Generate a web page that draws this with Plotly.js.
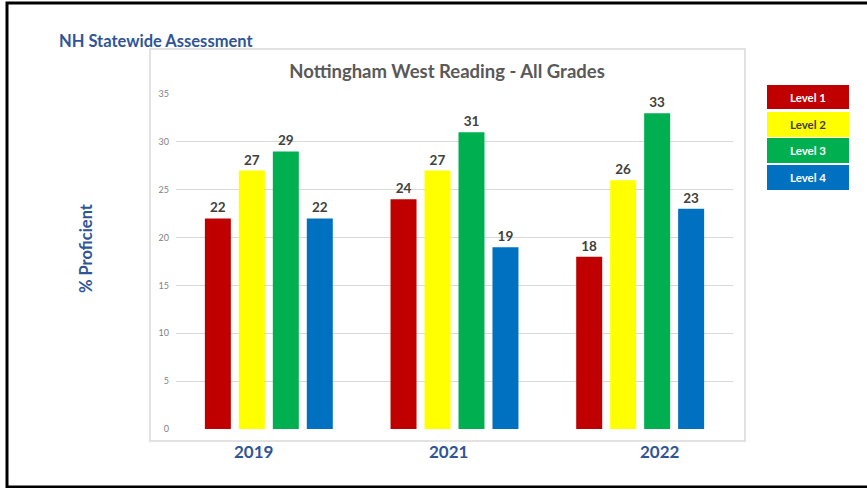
<!DOCTYPE html>
<html>
<head>
<meta charset="utf-8">
<script src="https://cdn.plot.ly/plotly-3.0.1.min.js"></script>
<style>html,body{margin:0;padding:0;background:#fff;}#chart{width:867px;height:488px;}</style>
</head>
<body>
<div id="chart"></div>
<script>
const years = ["2019", "2021", "2022"];
const seriesNames = ["Level 1", "Level 2", "Level 3", "Level 4"];
const level1 = [22, 24, 18];
const level2 = [27, 27, 26];
const level3 = [29, 31, 33];
const level4 = [22, 19, 23];
const seriesValues = [level1, level2, level3, level4];
const seriesColors = ["#C00000", "#FFFF00", "#00B050", "#0070C0"];
const legendTextColors = ["#FFFFFF", "#404040", "#FFFFFF", "#FFFFFF"];
const yTicks = [0, 5, 10, 15, 20, 25, 30, 35];
const yearLabelShift = [-15, -6, 20];

const W = 867, H = 488;
const L = 176, R = 733, T = 94, B = 429;
const px = x => (x - L) / (R - L);
const py = y => (B - y) / (B - T);

const FONT = "Lato, 'Open Sans', sans-serif";

const traces = seriesNames.map((name, i) => ({
  type: "bar",
  name: name,
  x: years,
  y: seriesValues[i],
  marker: {color: seriesColors[i], line: {width: 0}},
  text: seriesValues[i].map(String),
  textposition: "outside",
  textfont: {family: FONT, size: 13.5, color: "#404040", weight: "bold"},
  cliponaxis: false,
  hoverinfo: "skip"
}));

const shapes = [
  {type: "rect", xref: "paper", yref: "paper", x0: px(150), x1: px(745), y0: py(441), y1: py(49),
   line: {color: "#D9D9D9", width: 1.5}, fillcolor: "rgba(0,0,0,0)", layer: "below"},
  {type: "rect", xref: "paper", yref: "paper", x0: px(7), x1: px(880), y0: py(487), y1: py(3),
   line: {color: "#000000", width: 3}, fillcolor: "rgba(0,0,0,0)"}
];
const legendY = [[85, 109], [112, 137], [138, 163], [165, 190]];
const annotations = [
  {xref: "paper", yref: "paper", x: px(57), y: py(41), xanchor: "left", yanchor: "middle",
   text: "<b>NH Statewide Assessment</b>", showarrow: false,
   font: {family: FONT, size: 16.5, color: "#2F5597"}},
  {xref: "paper", yref: "paper", x: px(86), y: py(248), xanchor: "center", yanchor: "middle",
   text: "<b>% Proficient</b>", textangle: -90, showarrow: false,
   font: {family: FONT, size: 16.5, color: "#2F5597"}}
];
years.forEach((yr, i) => {
  annotations.push({xref: "x", yref: "paper", x: i, y: py(451), xshift: yearLabelShift[i],
    xanchor: "center", yanchor: "middle", text: "<b>" + yr + "</b>", showarrow: false,
    font: {family: FONT, size: 17, color: "#2F5597"}});
});
seriesNames.forEach((n, i) => {
  shapes.push({type: "rect", xref: "paper", yref: "paper", x0: px(767), x1: px(849),
    y0: py(legendY[i][1]), y1: py(legendY[i][0]), line: {width: 0}, fillcolor: seriesColors[i]});
  annotations.push({xref: "paper", yref: "paper", x: px(808), y: py((legendY[i][0] + legendY[i][1]) / 2),
    xanchor: "center", yanchor: "middle", text: "<b>" + n + "</b>", showarrow: false,
    font: {family: FONT, size: 11.5, color: legendTextColors[i]}});
});

const layout = {
  width: W, height: H,
  margin: {l: L, r: W - R, t: T, b: H - B, pad: 0},
  paper_bgcolor: "#FFFFFF", plot_bgcolor: "#FFFFFF",
  showlegend: false,
  barmode: "group",
  bargap: 0.268,
  bargroupgap: 0.235,
  title: {text: "<b>Nottingham West Reading - All Grades</b>", x: 447 / W, xanchor: "center",
          y: 1 - 72 / H, yanchor: "middle", font: {family: FONT, size: 18.5, color: "#595959"}},
  xaxis: {type: "category", range: [-0.5, 2.5], autorange: false, showgrid: false, zeroline: false,
          showline: false, ticks: "", showticklabels: false, fixedrange: true},
  yaxis: {range: [0, 35], tickvals: yTicks, ticktext: yTicks.map(String), showgrid: true,
          gridcolor: "#D9D9D9", gridwidth: 1, zeroline: false, showline: false, ticks: "",
          ticklabelstandoff: 6,
          tickfont: {family: FONT, size: 9, color: "#7F7F7F"}, fixedrange: true},
  shapes: shapes,
  annotations: annotations
};

Plotly.newPlot("chart", traces, layout, {displayModeBar: false, staticPlot: true});
</script>
</body>
</html>
